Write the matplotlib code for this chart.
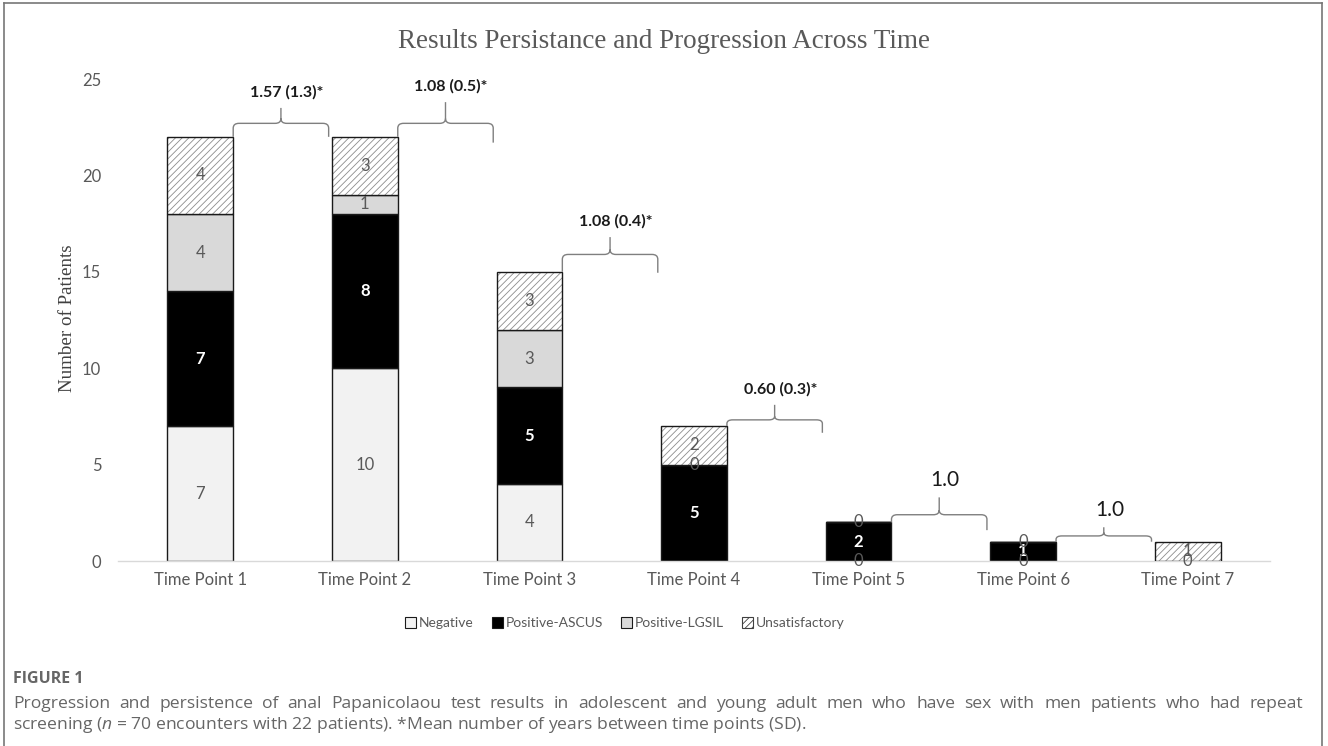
import matplotlib
matplotlib.use("Agg")
import matplotlib.pyplot as plt
import numpy as np
from matplotlib.patches import Patch, PathPatch
from matplotlib.path import Path
from matplotlib.lines import Line2D

plt.rcParams["mathtext.fontset"] = "custom"
plt.rcParams["mathtext.rm"] = "Open Sans"
plt.rcParams["mathtext.it"] = "Open Sans:italic"
plt.rcParams["hatch.linewidth"] = 0.6

# data
TIME_POINTS = ["Time Point 1", "Time Point 2", "Time Point 3", "Time Point 4",
               "Time Point 5", "Time Point 6", "Time Point 7"]
NEGATIVE = [7, 10, 4, 0, 0, 0, 0]
ASCUS = [7, 8, 5, 5, 2, 1, 0]
LGSIL = [4, 1, 3, 0, 0, 0, 0]
UNSAT = [4, 3, 3, 2, 0, 0, 1]
# zero-height segments that still carry a "0" label in the original
ZERO_LABELS = [(3, "Positive-LGSIL"), (4, "Negative"), (4, "Positive-LGSIL"),
               (5, "Negative"), (5, "Positive-LGSIL"), (6, "Negative")]
# mean years between consecutive time points (SD)
GAP_LABELS = ["1.57 (1.3)*", "1.08 (0.5)*", "1.08 (0.4)*", "0.60 (0.3)*", "1.0", "1.0"]

# brace shapes (data units above the bar top): arm height, tip height, extra drop of right arm
BRACE_ARM = [0.7, 0.7, 0.9, 0.32, 0.4, 0.3]
BRACE_TIP = [1.5, 1.8, 1.8, 1.1, 1.3, 0.75]
BRACE_DROP = [0.0, 0.3, 0.05, 0.35, 0.4, 0.0]

SERIES = [
    ("Negative", NEGATIVE, "#f2f2f2", "#595959"),
    ("Positive-ASCUS", ASCUS, "#000000", "white"),
    ("Positive-LGSIL", LGSIL, "#d9d9d9", "#595959"),
    ("Unsatisfactory", UNSAT, "white", "#595959"),
]

W, H = 1328, 746
fig = plt.figure(figsize=(W / 100, H / 100), dpi=100)
ax = fig.add_axes([118 / W, 1 - 561 / H, (1270 - 118) / W, (561 - 79) / H])

x = np.arange(len(TIME_POINTS))
bw = 0.4
bottom = np.zeros(len(x))
seg_base = {}
for name, vals, fc, tc in SERIES:
    vals = np.array(vals, dtype=float)
    seg_base[name] = bottom.copy()
    if name == "Unsatisfactory":
        ax.bar(x, vals, bw, bottom=bottom, color="white", edgecolor="#8c8c8c",
               hatch="/////", linewidth=0, zorder=2)
        ax.bar(x, vals, bw, bottom=bottom, fill=False, edgecolor="#1a1a1a",
               linewidth=1.0, zorder=3)
    else:
        ax.bar(x, vals, bw, bottom=bottom, color=fc, edgecolor="#1a1a1a",
               linewidth=1.0, zorder=2)
    for i, v in enumerate(vals):
        if v > 0:
            bold = "bold" if fc == "#000000" else "normal"
            ax.text(x[i], bottom[i] + v / 2, f"{int(v)}", ha="center", va="center",
                    color=tc, fontsize=12, family="Lato", fontweight=bold, zorder=4)
    bottom = bottom + vals

for i, name in ZERO_LABELS:
    ax.text(x[i], seg_base[name][i], "0", ha="center", va="center",
            color="#595959", fontsize=12, family="Lato", zorder=4)

totals = bottom


def brace(ax, x0, x1, y0, arm, tip, drop):
    xm = (x0 + x1) / 2
    y1 = y0 + arm
    rx, ry = 0.035, min(0.25, arm * 0.6)
    verts = [(x0, y0), (x0, y1 - ry), (x0, y1), (x0 + rx, y1), (xm - rx, y1),
             (xm, y1), (xm, y1 + ry), (xm, y0 + tip),
             (xm, y1 + ry), (xm, y1), (xm + rx, y1), (x1 - rx, y1),
             (x1, y1), (x1, y1 - ry), (x1, y0 - drop)]
    codes = [Path.MOVETO, Path.LINETO, Path.CURVE3, Path.CURVE3, Path.LINETO,
             Path.CURVE3, Path.CURVE3, Path.LINETO,
             Path.MOVETO, Path.CURVE3, Path.CURVE3, Path.LINETO,
             Path.CURVE3, Path.CURVE3, Path.LINETO]
    ax.add_patch(PathPatch(Path(verts, codes), fill=False, edgecolor="#7f7f7f",
                           linewidth=1.0, zorder=3, clip_on=False))
    return xm


for i, lbl in enumerate(GAP_LABELS):
    x0 = x[i] + bw / 2
    x1 = x[i + 1] - bw / 2 - 0.02
    xm = brace(ax, x0, x1, totals[i], BRACE_ARM[i], BRACE_TIP[i], BRACE_DROP[i])
    big = not lbl.endswith("*")
    ax.annotate(lbl, (xm, totals[i] + BRACE_TIP[i]), xytext=(4, 5 if big else 6),
                textcoords="offset points", ha="center", va="bottom",
                fontsize=15 if big else 11.5, family="Lato", color="#1a1a1a",
                fontweight="normal" if big else "bold", annotation_clip=False)

ax.set_xlim(-0.5, len(x) - 0.5)
ax.set_ylim(0, 25)
ax.set_yticks([0, 5, 10, 15, 20, 25])
ax.set_xticks(x)
ax.set_xticklabels(TIME_POINTS)
for s in ("left", "top", "right"):
    ax.spines[s].set_visible(False)
ax.spines["bottom"].set_color("#d9d9d9")
ax.spines["bottom"].set_linewidth(1.0)
ax.tick_params(length=0, labelsize=12, labelcolor="#595959")
ax.tick_params(axis="y", pad=12)
ax.tick_params(axis="x", pad=8)
for t in ax.get_xticklabels() + ax.get_yticklabels():
    t.set_family("Lato")

fig.text(664 / W, 1 - 42 / H, "Results Persistance and Progression Across Time",
         ha="center", va="center", family="Liberation Serif", fontsize=19.5, color="#595959")
fig.text(68 / W, 1 - 318 / H, "Number of Patients", rotation=90, ha="center", va="center",
         family="Liberation Serif", fontsize=13.7, color="#404040")

handles = [Patch(facecolor="#f2f2f2", edgecolor="#1a1a1a", linewidth=0.8),
           Patch(facecolor="#000000", edgecolor="#1a1a1a", linewidth=0.8),
           Patch(facecolor="#d9d9d9", edgecolor="#1a1a1a", linewidth=0.8),
           Patch(facecolor="white", edgecolor="#404040", hatch="/////", linewidth=0.8)]
fig.legend(handles, [s[0] for s in SERIES], loc="center",
           bbox_to_anchor=(625 / W, 1 - 623 / H), ncol=4, frameon=False,
           handlelength=0.8, handleheight=0.8, handletextpad=0.2, columnspacing=1.3,
           prop={"family": "Lato", "size": 10}, labelcolor="#595959")

# outer frame (left, top, right)
fc = "#777777"
fig.add_artist(Line2D([4 / W, 4 / W], [0, 1 - 3 / H], color=fc, lw=1.2))
fig.add_artist(Line2D([4 / W, 1322 / W], [1 - 3 / H, 1 - 3 / H], color=fc, lw=1.2))
fig.add_artist(Line2D([1322 / W, 1322 / W], [0, 1 - 3 / H], color=fc, lw=1.2))

# caption
cap_kw = dict(family="Open Sans", fontsize=12.6, color="#666666", va="center")
fig.text(13 / W, 1 - 679 / H, "FIGURE 1", family="Open Sans", fontsize=11.5,
         fontweight="bold", color="#666666", va="center")
line1 = ("Progression and persistence of anal Papanicolaou test results in adolescent "
         "and young adult men who have sex with men patients who had repeat").split()
renderer = fig.canvas.get_renderer()
texts = [fig.text(0, 1 - 704 / H, w, **cap_kw) for w in line1]
widths = [t.get_window_extent(renderer).width for t in texts]
gap = (1303 - 13 - sum(widths)) / (len(texts) - 1)
xpos = 13
for t, wd in zip(texts, widths):
    t.set_x(xpos / W)
    xpos += wd + gap
fig.text(13 / W, 1 - 725 / H,
         r"screening ($n$ = 70 encounters with 22 patients). *Mean number of years between time points (SD).",
         **cap_kw)

fig.savefig("out.png", dpi=100)
